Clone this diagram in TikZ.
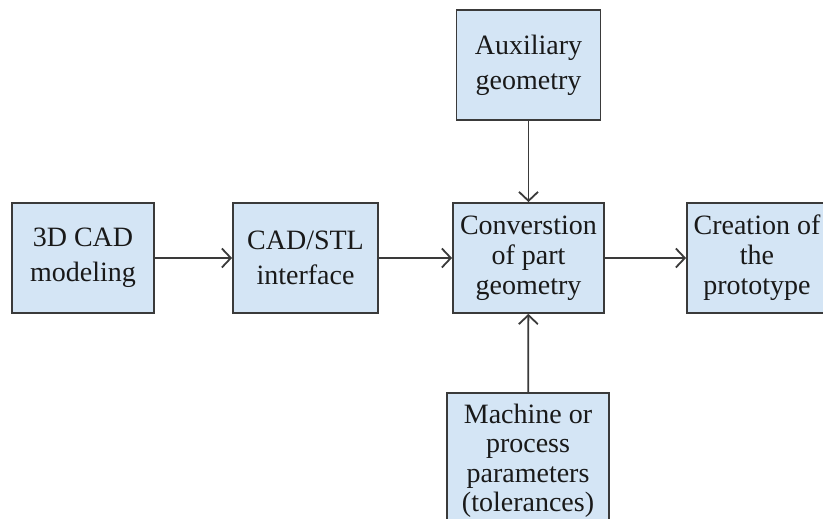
\documentclass[tikz,border=0pt]{standalone}
\usepackage{fontspec}
\setmainfont{Liberation Serif}
\usetikzlibrary{arrows.meta}
\definecolor{boxfill}{HTML}{D4E5F5}
\definecolor{boxline}{HTML}{3A3A3A}
\begin{document}
\begin{tikzpicture}[x=1pt,y=-1pt,
  block/.style={draw=boxline,fill=boxfill,line width=1.8pt,rectangle,
    inner sep=0pt,align=center,minimum height=110pt,text=black!90},
  two/.style={font=\fontsize{28}{35}\selectfont},
  three/.style={font=\fontsize{28}{30}\selectfont},
  flow/.style={draw=boxline,line width=1.8pt,
    -{Straight Barb[length=9pt,width=19pt,line width=1.8pt]}}]
\useasboundingbox (0,0) rectangle (823,519);

\node[block,two,minimum width=142pt] (cad) at (83,258) {3D CAD\\modeling};
\node[block,two,minimum width=145pt] (stl) at (305.5,258) {CAD/STL\\interface};
\node[block,three,minimum width=151pt] (conv) at (528.5,258) {Converstion\\of part\\geometry};
\node[block,three,minimum width=140pt] (proto) at (757,258) {Creation of\\the\\prototype};
\node[block,two,minimum width=144pt] (aux) at (528.5,65) {Auxiliary\\geometry};
\node[block,font=\fontsize{28}{29.5}\selectfont,minimum width=162pt,minimum height=136pt]
  (mach) at (528,461) {Machine or\\process\\parameters\\(tolerances)};

\draw[flow] (cad) -- (stl);
\draw[flow] (stl) -- (conv);
\draw[flow] (conv) -- (proto);
\draw[flow] (aux) -- (conv);
\draw[flow] (mach) -- (conv);
\end{tikzpicture}
\end{document}
